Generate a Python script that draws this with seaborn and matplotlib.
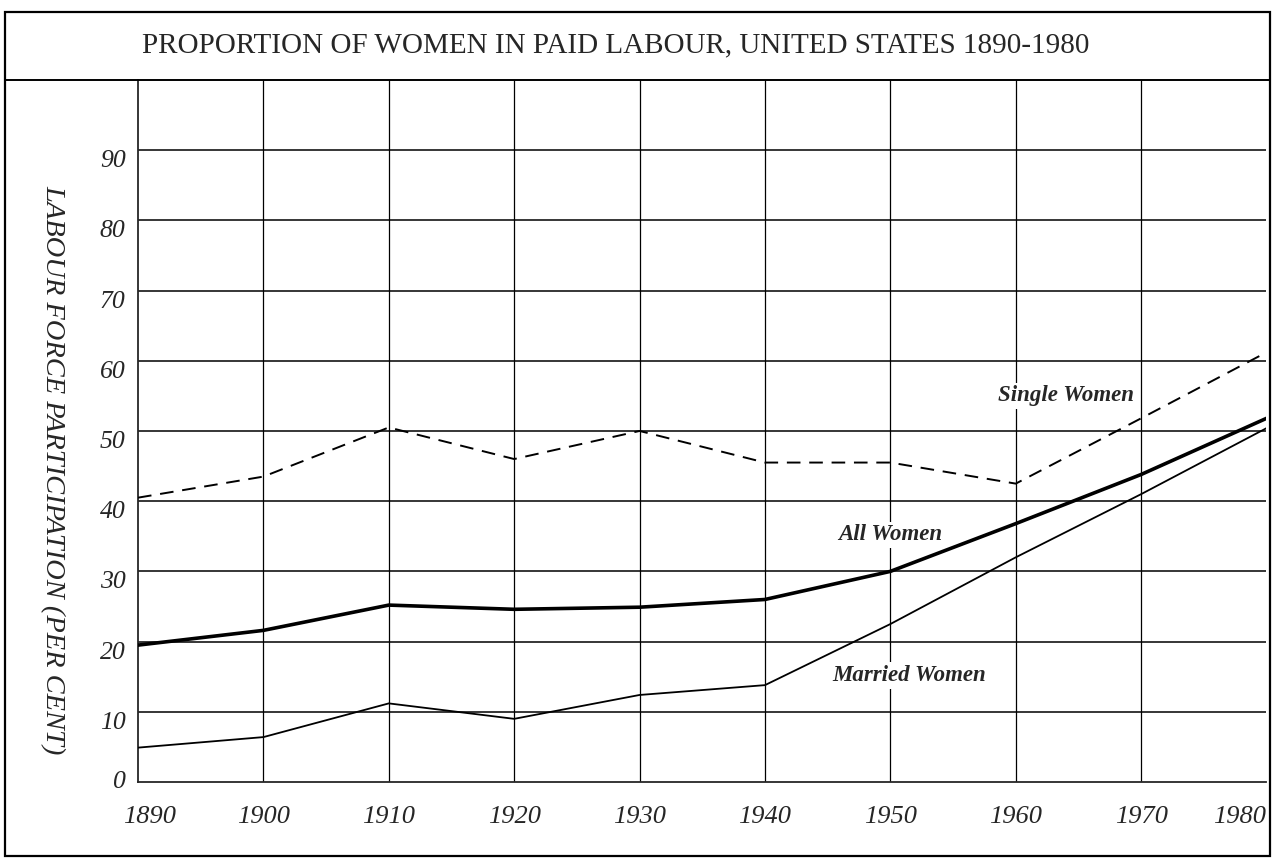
import pandas as pd
import seaborn as sns
import matplotlib.pyplot as plt
from matplotlib.patches import Rectangle
from matplotlib.lines import Line2D
from matplotlib.transforms import ScaledTranslation

# data
years = [1890, 1900, 1910, 1920, 1930, 1940, 1950, 1960, 1970, 1980]
single_women = [40.5, 43.5, 50.5, 46.0, 50.0, 45.5, 45.5, 42.5, 51.8, 61.2]
all_women = [19.5, 21.6, 25.2, 24.6, 24.9, 26.0, 30.0, 36.8, 43.8, 51.8]
married_women = [4.9, 6.4, 11.2, 9.0, 12.4, 13.8, 22.5, 32.0, 41.0, 50.4]
y_ticks = [0, 10, 20, 30, 40, 50, 60, 70, 80, 90]

df = pd.DataFrame({"year": years, "single": single_women,
                   "all": all_women, "married": married_women})

sns.set_style("white")
plt.rcParams["font.family"] = ["Liberation Serif", "DejaVu Serif"]

fig = plt.figure(figsize=(12.78, 8.59), dpi=100)
ax = fig.add_axes([0.108, 0.0896, 0.883, 0.8174])

# grid lines
for y in y_ticks[1:]:
    ax.axhline(y, color="black", lw=1.1, zorder=1)
for x in years[1:-1]:
    ax.axvline(x, color="black", lw=0.9, zorder=1)

sns.lineplot(data=df, x="year", y="single", ax=ax, color="black", lw=1.4,
             linestyle=(0, (7, 4.5)), zorder=3)
sns.lineplot(data=df, x="year", y="all", ax=ax, color="black", lw=2.6, zorder=3)
sns.lineplot(data=df, x="year", y="married", ax=ax, color="black", lw=1.3, zorder=3)

ax.set_xlim(1890, 1980)
ax.set_ylim(0, 100)
ax.set_xticks(years)
ax.set_yticks(y_ticks)
ax.set_xticklabels([str(y) for y in years], fontsize=19, style="italic")
ax.set_yticklabels([str(v) for v in y_ticks], fontsize=18.5, style="italic",
                   va="top")
ax.tick_params(axis="y", length=0, pad=9)
ax.tick_params(axis="x", length=0, pad=17)

# first and last year labels sit inside the frame
xl = ax.get_xticklabels()
xl[-1].set_ha("right")
xl[0].set_ha("left")
xl[0].set_transform(xl[0].get_transform() + ScaledTranslation(-0.15, 0, fig.dpi_scale_trans))
ax.get_yticklabels()[0].set_va("center")

ax.set_xlabel("")
ax.set_ylabel("")
for side in ["top", "right"]:
    ax.spines[side].set_visible(False)
ax.spines["left"].set_linewidth(1.3)
ax.spines["bottom"].set_linewidth(1.3)

# series labels
lab = dict(fontsize=16.5, style="italic", fontweight="bold", zorder=4,
           bbox=dict(facecolor="white", edgecolor="none", pad=2))
ax.text(1964.0, 55.0, "Single Women", ha="center", va="center", **lab)
ax.text(1950.0, 35.2, "All Women", ha="center", va="center", **lab)
ax.text(1951.5, 15.2, "Married Women", ha="center", va="center", **lab)

# y axis label
fig.text(0.041, 0.453, "LABOUR FORCE PARTICIPATION (PER CENT)", rotation=270,
         ha="center", va="center", fontsize=20.5, style="italic")

# outer frame and title box
fig.add_artist(Rectangle((0.004, 0.003), 0.99, 0.983, transform=fig.transFigure,
                         fill=False, edgecolor="black", lw=1.6))
fig.add_artist(Line2D([0.004, 0.994], [0.907, 0.907], transform=fig.transFigure,
                      color="black", lw=1.4))
fig.text(0.482, 0.947, "PROPORTION OF WOMEN IN PAID LABOUR, UNITED STATES 1890-1980",
         ha="center", va="center", fontsize=21)

fig.savefig("out.png", dpi=100)
